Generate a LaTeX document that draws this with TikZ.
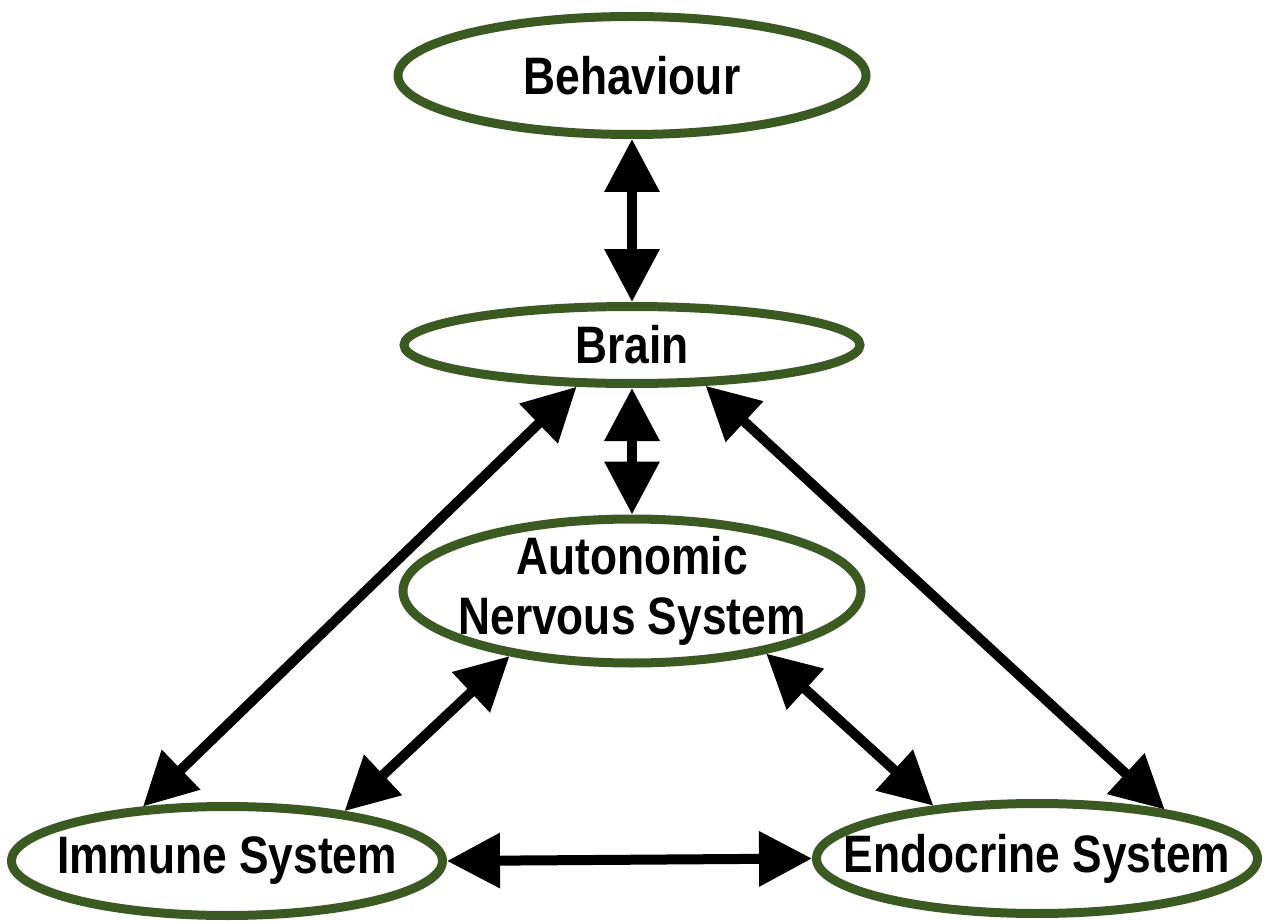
\documentclass[tikz,border=0pt]{standalone}
\usepackage{fontspec}
\newfontfamily\labelfont[FakeStretch=0.84]{Liberation Sans}
\usetikzlibrary{arrows.meta,shapes.geometric}
\definecolor{ringgreen}{HTML}{3B5A22}

\begin{document}
\begin{tikzpicture}[
    system/.style={ellipse, draw=ringgreen, line width=0.18cm, inner sep=-1.2cm, align=center,
        font=\labelfont\bfseries\fontsize{30}{34}\selectfont},
    link/.style={line width=0.2cm, {Triangle[length=1.06cm,width=1.06cm]}-{Triangle[length=1.06cm,width=1.06cm]}}
]
    \useasboundingbox (0,0) rectangle (25.36,-18.42);

    % the five systems
    \node[system, minimum width=9.36cm, minimum height=2.36cm] (behaviour) at (12.64,-1.51) {Behaviour};
    \node[system, minimum width=9.12cm, minimum height=1.54cm] (brain) at (12.64,-6.90) {Brain};
    \node[system, minimum width=9.16cm, minimum height=2.88cm] (ans) at (12.64,-11.82) {Autonomic\\Nervous System};
    \node[system, minimum width=8.62cm, minimum height=2.18cm] (immune) at (4.54,-17.22) {Immune System};
    \node[system, minimum width=8.82cm, minimum height=2.20cm] (endocrine) at (20.74,-17.17) {Endocrine System};

    % two-way links between them
    \foreach \a/\b in {behaviour.south/brain.north, brain.south/ans.north,
                       brain.217/immune.147, brain.331/endocrine.21,
                       ans.208/immune.23, ans.335/endocrine.153,
                       immune.east/endocrine.west} {
        \draw[link] (\a) -- (\b);
    }
\end{tikzpicture}
\end{document}
